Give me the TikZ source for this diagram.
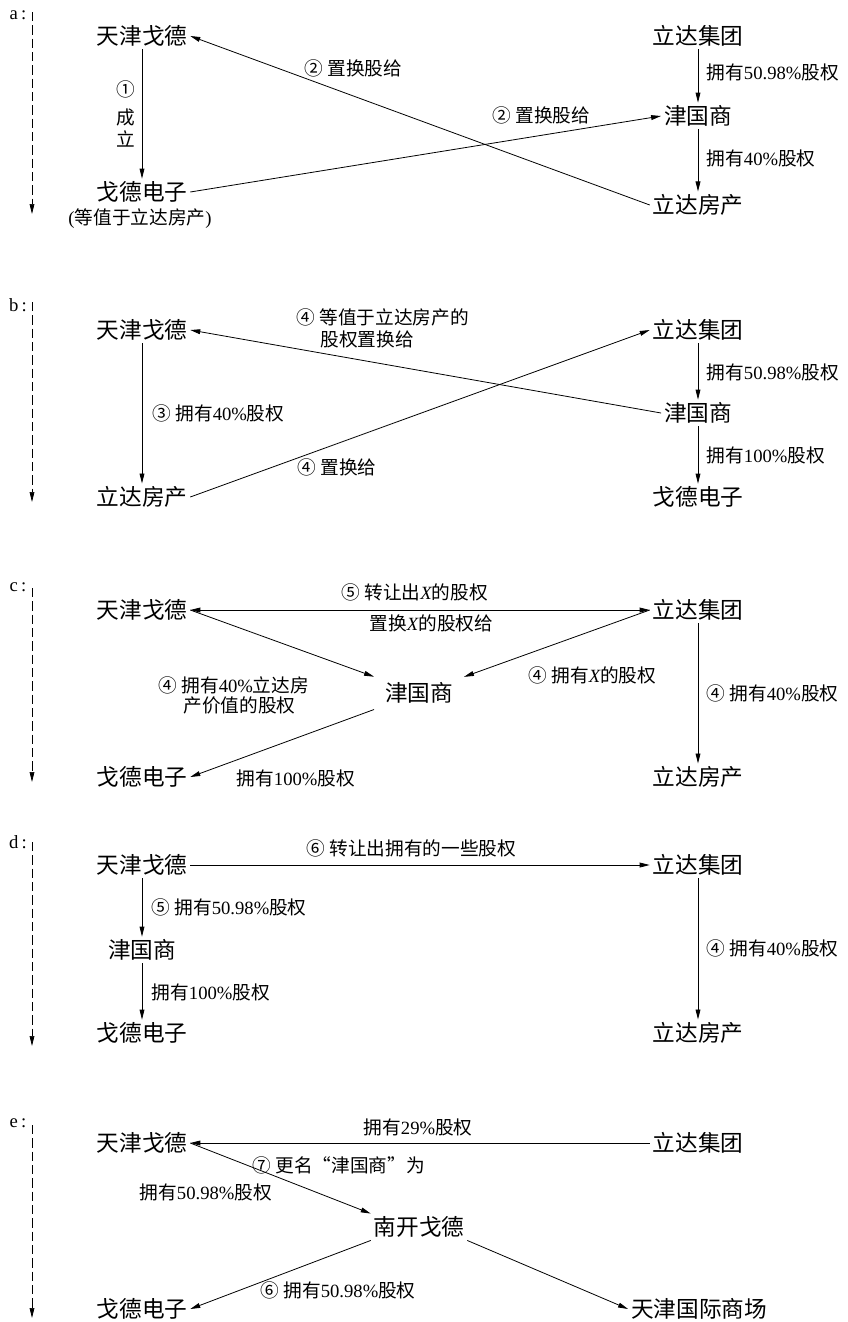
\documentclass[tikz,border=0pt]{standalone}
\usepackage{fontspec}
\setmainfont{Liberation Serif}
\newfontfamily\cjk{Noto Sans CJK SC}
\usetikzlibrary{arrows.meta}
\newcommand\rnum[1]{{\rmfamily #1}}
\newcommand\xit{{\rmfamily\itshape X}}

\begin{document}
\begin{tikzpicture}[x=0.75pt,y=-0.75pt,
  ent/.style={font=\cjk\fontsize{17}{20}\selectfont,inner sep=2pt},
  lab/.style={font=\cjk\fontsize{14}{17}\selectfont,inner sep=1pt},
  tag/.style={font=\rmfamily\fontsize{14}{16}\selectfont,inner sep=1pt},
  arr/.style={-{Triangle[length=7.5pt,width=3.6pt]},line width=0.6pt},
  darr/.style={{Triangle[length=7.5pt,width=3.6pt]}-{Triangle[length=7.5pt,width=3.6pt]},line width=0.6pt},
  tline/.style={arr,dash pattern=on 7pt off 3pt,line width=0.5pt}]
  \useasboundingbox (0,0) rectangle (848,1322);
  % a
  \node[tag] (ta) at (18,15) {a\,:};
  \coordinate (a0) at (32,12);
  \coordinate (a1) at (32,214);
  \draw[tline] (a0) -- (a1);
  \node[ent] (aTJ) at (142,36) {天津戈德};
  \node[ent] (aGD) at (142,192) {戈德电子};
  \node[lab] (aGDn) at (140,219) {\rnum{(}等值于立达房产\rnum{)}};
  \node[ent] (aLJ) at (698,36) {立达集团};
  \node[ent] (aJG) at (698,116) {津国商};
  \node[ent] (aLF) at (698,205) {立达房产};
  \draw[arr] (aTJ) -- (aGD);
  \draw[arr] (aLJ) -- (aJG);
  \draw[arr] (aJG) -- (aLF);
  \draw[arr] (aLF.west) -- (aTJ.east);
  \draw[arr] (aGD.east) -- (aJG.west);
  \node[lab,align=center] (aL1) at (126,114) {①\\[4pt]成\\立};
  \node[lab,anchor=west] (aL2) at (705,72) {拥有\rnum{50.98\%}股权};
  \node[lab,anchor=west] (aL3) at (705,158) {拥有\rnum{40\%}股权};
  \node[lab,anchor=west] (aL4) at (303,68) {② 置换股给};
  \node[lab,anchor=west] (aL5) at (491,115) {② 置换股给};
  % b
  \node[tag] (tb) at (18,305) {b\,:};
  \coordinate (b0) at (32,302);
  \coordinate (b1) at (32,502);
  \draw[tline] (b0) -- (b1);
  \node[ent] (bTJ) at (142,330) {天津戈德};
  \node[ent] (bLF) at (142,497) {立达房产};
  \node[ent] (bLJ) at (698,330) {立达集团};
  \node[ent] (bJG) at (698,413) {津国商};
  \node[ent] (bGD) at (698,497) {戈德电子};
  \draw[arr] (bTJ) -- (bLF);
  \draw[arr] (bLJ) -- (bJG);
  \draw[arr] (bJG) -- (bGD);
  \draw[arr] (bJG.west) -- (bTJ.east);
  \draw[arr] (bLF.east) -- (bLJ.west);
  \node[lab,anchor=west] (bL1) at (295,317) {④ 等值于立达房产的};
  \node[lab,anchor=west] (bL2) at (319,339) {股权置换给};
  \node[lab,anchor=west] (bL3) at (151,413) {③ 拥有\rnum{40\%}股权};
  \node[lab,anchor=west] (bL4) at (296,467) {④ 置换给};
  \node[lab,anchor=west] (bL5) at (705,372) {拥有\rnum{50.98\%}股权};
  \node[lab,anchor=west] (bL6) at (705,455) {拥有\rnum{100\%}股权};
  % c
  \node[tag] (tc) at (18,587) {c\,:};
  \coordinate (c0) at (32,588);
  \coordinate (c1) at (32,782);
  \draw[tline] (c0) -- (c1);
  \node[ent] (cTJ) at (142,610) {天津戈德};
  \node[ent] (cLJ) at (698,610) {立达集团};
  \node[ent,inner sep=8pt] (cJG) at (419,693) {津国商};
  \node[ent] (cGD) at (142,777) {戈德电子};
  \node[ent] (cLF) at (698,777) {立达房产};
  \draw[darr] (cTJ.east) -- (cLJ.west);
  \draw[arr] (cTJ.east) -- (cJG);
  \draw[arr] (cLJ.west) -- (cJG);
  \draw[arr] (cJG) -- (cGD.east);
  \draw[arr] (cLJ) -- (cLF);
  \node[lab,anchor=west] (cL1) at (340,592) {⑤ 转让出\xit 的股权};
  \node[lab,anchor=west] (cL2) at (368,623) {置换\xit 的股权给};
  \node[lab,anchor=west] (cL3) at (157,685) {④ 拥有\rnum{40\%}立达房};
  \node[lab,anchor=west] (cL4) at (182,705) {产价值的股权};
  \node[lab,anchor=west] (cL5) at (527,675) {④ 拥有\xit 的股权};
  \node[lab,anchor=west] (cL6) at (705,693) {④ 拥有\rnum{40\%}股权};
  \node[lab,anchor=west] (cL7) at (235,778) {拥有\rnum{100\%}股权};
  % d
  \node[tag] (td) at (18,842) {d\,:};
  \coordinate (d0) at (32,842);
  \coordinate (d1) at (32,1046);
  \draw[tline] (d0) -- (d1);
  \node[ent] (dTJ) at (142,865) {天津戈德};
  \node[ent] (dLJ) at (698,865) {立达集团};
  \node[ent] (dJG) at (142,950) {津国商};
  \node[ent] (dGD) at (142,1033) {戈德电子};
  \node[ent] (dLF) at (698,1033) {立达房产};
  \draw[arr] (dTJ) -- (dLJ);
  \draw[arr] (dTJ) -- (dJG);
  \draw[arr] (dJG) -- (dGD);
  \draw[arr] (dLJ) -- (dLF);
  \node[lab,anchor=west] (dL1) at (305,848) {⑥ 转让出拥有的一些股权};
  \node[lab,anchor=west] (dL2) at (150,907) {⑤ 拥有\rnum{50.98\%}股权};
  \node[lab,anchor=west] (dL3) at (150,992) {拥有\rnum{100\%}股权};
  \node[lab,anchor=west] (dL4) at (705,948) {④ 拥有\rnum{40\%}股权};
  % e
  \node[tag] (te) at (18,1123) {e\,:};
  \coordinate (e0) at (32,1125);
  \coordinate (e1) at (32,1318);
  \draw[tline] (e0) -- (e1);
  \node[ent] (eTJ) at (142,1143) {天津戈德};
  \node[ent] (eLJ) at (698,1143) {立达集团};
  \node[ent] (eNK) at (419,1227) {南开戈德};
  \node[ent] (eGD) at (142,1309) {戈德电子};
  \node[ent] (eTG) at (699,1309) {天津国际商场};
  \draw[arr] (eLJ) -- (eTJ);
  \draw[arr] (eTJ.east) -- (eNK.north west);
  \draw[arr] (eNK.south west) -- (eGD.east);
  \draw[arr] (eNK.south east) -- (eTG.west);
  \node[lab,anchor=west] (eL1) at (362,1127) {拥有\rnum{29\%}股权};
  \node[lab,anchor=west] (eL2) at (251,1165) {⑦ 更名“津国商”为};
  \node[lab,anchor=west] (eL3) at (138,1192) {拥有\rnum{50.98\%}股权};
  \node[lab,anchor=west] (eL4) at (259,1290) {⑥ 拥有\rnum{50.98\%}股权};
\end{tikzpicture}
\end{document}
